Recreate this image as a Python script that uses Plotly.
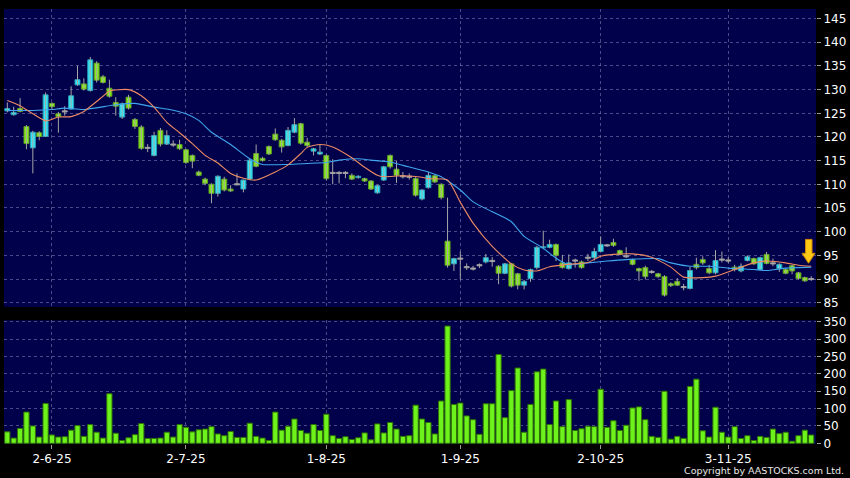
import plotly.graph_objects as go

# x positions are trading-day indices; ticks mark the first trading day of each month
tick_idx = [7, 28, 50, 71, 93, 113]
tick_lbl = ["2-6-25", "2-7-25", "1-8-25", "1-9-25", "2-10-25", "3-11-25"]

opens = [
    125.5, 124.7, 126.0, 122.2, 117.7, 120.9, 120.1, 127.1, 124.9, 125.4,
    125.9, 131.0, 131.2, 129.8, 135.6, 132.7, 130.3, 127.3, 124.2, 128.4,
    123.7, 122.1, 117.7, 116.1, 121.4, 118.5, 118.4, 118.4, 117.3, 116.1,
    112.6, 111.1, 110.0, 108.1, 111.1, 109.0, 110.0, 109.0, 111.1, 116.5,
    115.5, 118.0, 120.6, 119.3, 118.2, 121.0, 122.8, 118.9, 117.0, 116.4,
    116.1, 112.4, 112.4, 112.4, 111.9, 111.4, 111.2, 110.7, 108.2, 110.9,
    116.1, 113.2, 111.7, 111.6, 111.2, 106.9, 109.3, 111.8, 110.0, 98.0,
    93.2, 94.3, 92.5, 92.2, 92.9, 93.6, 93.8, 92.7, 91.2, 93.2,
    91.1, 88.7, 90.1, 92.4, 96.6, 96.7, 97.3, 93.4, 92.2, 93.9,
    93.6, 94.5, 94.5, 95.8, 97.1, 97.7, 96.0, 94.8, 94.1, 92.2,
    92.4, 91.5, 91.1, 90.5, 89.0, 89.5, 88.3, 88.0, 93.1, 94.1,
    92.2, 91.3, 94.1, 93.9, 92.5, 91.7, 93.9, 94.3, 92.0, 95.2,
    93.3, 92.2, 92.0, 92.8, 91.3, 90.3, 90.0,
]
highs = [
    127.3, 126.4, 128.2, 122.5, 121.3, 121.2, 129.4, 127.3, 125.3, 126.5,
    130.7, 135.0, 132.4, 136.9, 136.0, 133.1, 132.1, 128.4, 127.3, 128.9,
    124.0, 122.5, 118.5, 121.1, 121.9, 121.4, 119.3, 119.4, 117.5, 116.3,
    112.9, 111.4, 110.2, 111.9, 111.6, 109.8, 112.3, 111.0, 115.5, 118.4,
    115.8, 118.2, 121.8, 119.6, 122.1, 124.0, 123.0, 119.8, 117.7, 118.4,
    116.3, 115.3, 112.8, 112.8, 112.3, 111.9, 111.4, 110.9, 109.9, 113.9,
    116.3, 114.9, 112.6, 112.3, 111.5, 109.0, 112.6, 112.0, 110.2, 107.2,
    94.5, 95.8, 93.3, 92.8, 93.3, 95.3, 94.6, 92.9, 93.4, 93.4,
    91.3, 89.8, 92.2, 97.0, 100.2, 98.3, 97.5, 95.1, 95.2, 94.3,
    93.9, 95.3, 96.6, 99.0, 97.4, 98.5, 96.2, 96.7, 94.3, 92.4,
    92.8, 91.9, 91.3, 90.8, 89.3, 90.2, 89.0, 92.6, 94.5, 94.8,
    93.0, 96.1, 95.8, 94.6, 93.0, 93.3, 95.0, 94.5, 94.7, 95.7,
    94.3, 93.3, 92.2, 93.0, 91.5, 90.5, 90.6,
]
lows = [
    125.2, 124.5, 125.2, 117.4, 112.3, 119.3, 120.0, 125.9, 120.9, 124.5,
    125.8, 130.8, 129.8, 129.6, 131.5, 131.3, 128.3, 124.5, 123.8, 125.8,
    121.7, 117.3, 116.8, 115.9, 118.0, 118.3, 117.9, 117.3, 114.3, 113.4,
    111.7, 109.8, 106.0, 107.4, 108.5, 108.4, 109.8, 108.3, 111.0, 113.6,
    114.8, 116.2, 119.2, 116.7, 118.0, 120.8, 118.4, 117.9, 116.1, 116.2,
    110.8, 110.0, 110.2, 111.3, 110.9, 111.2, 110.5, 108.8, 108.0, 110.7,
    113.3, 110.3, 111.2, 111.0, 107.4, 106.6, 109.1, 110.3, 106.8, 92.4,
    91.7, 89.9, 91.9, 91.8, 92.3, 93.3, 92.6, 88.9, 91.0, 88.2,
    87.8, 87.8, 89.4, 92.0, 96.3, 96.5, 93.8, 92.2, 92.0, 92.4,
    92.2, 93.8, 93.9, 95.6, 96.8, 96.8, 95.0, 94.4, 92.9, 89.6,
    89.9, 91.1, 90.2, 86.3, 88.3, 88.5, 87.6, 87.8, 92.0, 93.0,
    91.0, 91.0, 93.5, 93.4, 91.6, 91.4, 93.7, 93.0, 91.8, 93.1,
    92.7, 91.5, 91.0, 91.0, 89.9, 89.4, 89.6,
]
closes = [
    126.0, 125.2, 125.4, 118.6, 121.0, 120.1, 128.9, 126.4, 124.3, 125.4,
    128.7, 132.1, 130.1, 136.3, 132.0, 131.5, 128.6, 126.5, 127.0, 126.1,
    122.2, 117.6, 117.7, 120.3, 118.5, 120.3, 118.4, 117.5, 114.6, 114.9,
    111.9, 110.2, 108.1, 111.7, 108.8, 108.6, 110.0, 110.9, 115.1, 113.8,
    115.0, 116.4, 119.4, 117.9, 121.4, 122.6, 118.7, 118.2, 117.5, 116.8,
    111.2, 112.4, 112.4, 112.4, 111.1, 111.7, 110.7, 109.0, 109.7, 113.7,
    113.7, 111.9, 111.7, 111.6, 107.7, 108.8, 111.9, 110.5, 107.2, 92.9,
    94.3, 94.3, 92.5, 92.2, 92.9, 94.5, 93.8, 91.2, 93.2, 88.5,
    88.7, 89.5, 92.0, 96.7, 96.8, 97.3, 95.0, 92.4, 93.4, 93.9,
    92.4, 94.5, 95.8, 97.3, 97.1, 97.1, 95.2, 94.8, 93.1, 91.7,
    90.5, 91.5, 90.5, 86.6, 88.6, 88.7, 88.3, 91.8, 92.4, 93.4,
    91.3, 93.9, 94.1, 93.9, 92.0, 92.7, 94.7, 93.2, 94.5, 93.3,
    93.3, 93.1, 91.2, 91.7, 90.1, 89.6, 90.0,
]
volumes = [
    33, 15, 43, 90, 50, 18, 115, 24, 18, 19,
    38, 51, 20, 54, 32, 15, 143, 29, 8, 16,
    25, 57, 14, 14, 15, 32, 18, 54, 46, 33,
    39, 41, 48, 27, 22, 34, 17, 17, 58, 20,
    15, 8, 90, 38, 49, 70, 37, 29, 54, 37,
    84, 22, 14, 19, 11, 16, 30, 10, 56, 30,
    60, 41, 20, 22, 110, 70, 60, 27, 122, 338,
    112, 116, 79, 68, 26, 114, 114, 256, 74, 152,
    217, 32, 112, 206, 214, 54, 122, 48, 126, 37,
    42, 49, 48, 156, 46, 65, 37, 52, 102, 105,
    68, 20, 17, 150, 12, 20, 14, 164, 185, 36,
    18, 104, 32, 18, 48, 14, 22, 8, 20, 17,
    41, 28, 32, 6, 22, 38, 24,
]

# moving averages at sample days
ma_fast_x = [0, 2, 4, 6, 8, 10, 12, 15, 16, 19, 21, 23, 25, 27, 29, 31, 33, 35, 37, 39,
             42, 44, 46, 47, 49, 51, 54, 56, 58, 59, 62, 65, 66, 69, 71, 73, 76, 79, 81, 83,
             85, 88, 91, 93, 95, 98, 101, 104, 106, 109, 111, 114, 117, 119, 122, 124, 126]
ma_fast = [127.7, 126.6, 124.9, 123.4, 124.2, 124.3, 125.4, 128.6, 129.7, 130.0,
           128.7, 126.3, 123.1, 120.9, 118.6, 116.1, 114.5, 112.3, 111.3, 110.9,
           112.6, 114.1, 116.5, 117.8, 118.4, 117.9, 115.6, 113.6, 111.9, 111.6,
           111.8, 111.5, 111.2, 110.9, 106.2, 101.8, 96.9, 93.2, 91.9, 91.7,
           92.6, 93.1, 93.5, 94.8, 95.2, 95.3, 94.6, 92.5, 90.4, 90.3,
           90.6, 92.0, 93.4, 93.8, 93.4, 92.9, 92.7]
ma_slow_x = [0, 4, 7, 9, 12, 17, 20, 23, 25, 28, 30, 32, 35, 38, 40, 44, 47, 50, 52, 55,
             57, 60, 62, 66, 68, 71, 73, 76, 79, 81, 84, 86, 88, 91, 94, 97, 102, 104, 107, 110,
             113, 117, 119, 122, 126]
ma_slow = [125.6, 125.6, 125.8, 126.1, 125.8, 126.8, 127.1, 126.3, 125.9, 124.9,
           123.5, 121.0, 118.4, 115.4, 114.2, 114.2, 114.4, 114.6, 115.1, 115.4,
           115.1, 114.7, 114.0, 112.6, 111.6, 108.8, 106.3, 104.2, 102.1, 99.0,
           96.5, 94.4, 93.0, 93.4, 93.8, 94.1, 94.3, 93.4, 92.7, 92.7,
           92.3, 92.0, 91.8, 92.3, 92.5]

UP_FILL, UP_EDGE = "#33e6f6", "#2a9fb4"
DOWN_FILL, DOWN_EDGE = "#86ea1e", "#5c9a22"
FLAT_FILL, FLAT_EDGE = "#b0b0b0", "#a0a0a0"
WICK = "#a6a6a6"
GRID = "rgba(135,135,190,0.55)"

idx = list(range(len(opens)))
body_base, body_h, body_col, body_edge = [], [], [], []
for o, c in zip(opens, closes):
    if c == o:
        body_base.append(o - 0.12)
        body_h.append(0.24)
        body_col.append(FLAT_FILL)
        body_edge.append(FLAT_EDGE)
    else:
        body_base.append(min(o, c))
        body_h.append(abs(c - o))
        body_col.append(UP_FILL if c > o else DOWN_FILL)
        body_edge.append(UP_EDGE if c > o else DOWN_EDGE)

wick_x, wick_y = [], []
for i, h, l in zip(idx, highs, lows):
    wick_x += [i, i, None]
    wick_y += [l, h, None]

fig = go.Figure()
fig.add_trace(go.Scatter(x=wick_x, y=wick_y, mode="lines",
                         line=dict(color=WICK, width=1), hoverinfo="skip",
                         xaxis="x", yaxis="y"))
fig.add_trace(go.Bar(x=idx, y=body_h, base=body_base, width=0.78,
                     marker=dict(color=body_col, line=dict(color=body_edge, width=1)),
                     xaxis="x", yaxis="y"))
fig.add_trace(go.Scatter(x=ma_slow_x, y=ma_slow, mode="lines",
                         line=dict(color="#3fa6ee", width=1.1, shape="spline", smoothing=0.6),
                         xaxis="x", yaxis="y"))
fig.add_trace(go.Scatter(x=ma_fast_x, y=ma_fast, mode="lines",
                         line=dict(color="#ee8a62", width=1.1, shape="spline", smoothing=0.6),
                         xaxis="x", yaxis="y"))
fig.add_trace(go.Bar(x=idx, y=volumes, width=0.82,
                     marker=dict(color="#6ef21c", line=dict(color="#2e7206", width=1)),
                     xaxis="x2", yaxis="y2"))

axis_font = dict(family="DejaVu Sans", size=12, color="#ffffff")
xcommon = dict(range=[-0.52, 126.75], tickmode="array", tickvals=tick_idx,
               showgrid=True, gridcolor=GRID, griddash="3px,3px", gridwidth=1,
               zeroline=False, showline=False)
ycommon = dict(side="right", showgrid=True, gridcolor=GRID, griddash="3px,3px",
               gridwidth=1, zeroline=False, showline=False, ticks="outside",
               ticklen=4, tickcolor="#9a9a9a", tickfont=axis_font)

fig.update_layout(
    width=850, height=478,
    paper_bgcolor="#000000", plot_bgcolor="#00004b",
    margin=dict(l=4, r=32, t=6, b=34),
    showlegend=False, barmode="overlay",
    font=dict(family="DejaVu Sans", color="#ffffff"),
    xaxis=dict(xcommon, anchor="y", domain=[0, 1], showticklabels=False, matches="x2"),
    xaxis2=dict(xcommon, anchor="y2", domain=[0, 1], ticktext=tick_lbl,
                ticks="outside", ticklen=4, tickcolor="#9a9a9a", tickfont=axis_font),
    yaxis=dict(ycommon, domain=[0.3151, 1], range=[84.1, 147.03], tick0=85, dtick=5),
    yaxis2=dict(ycommon, domain=[0, 0.2847], range=[-2, 355], tick0=0, dtick=50),
    annotations=[dict(text="Copyright by AASTOCKS.com Ltd.", xref="paper", yref="paper",
                      x=1.037, y=-0.0616, xanchor="right", yanchor="middle",
                      showarrow=False, font=dict(family="DejaVu Sans", size=9.5, color="#e8e8e8"))],
    shapes=[dict(type="path", xref="paper", yref="paper",
                 path="M 0.9871,0.4703 L 0.9951,0.4703 L 0.9951,0.4384 L 0.9988,0.4384 "
                      "L 0.9908,0.4155 L 0.9828,0.4384 L 0.9871,0.4384 Z",
                 fillcolor="#ffc814", line=dict(color="#d08a00", width=1))],
)

# the page body has a default 8px margin; drop it so the figure fills the window
fig.write_html("out.html", config={"displayModeBar": False},
               post_script="document.body.style.margin='0px';")
